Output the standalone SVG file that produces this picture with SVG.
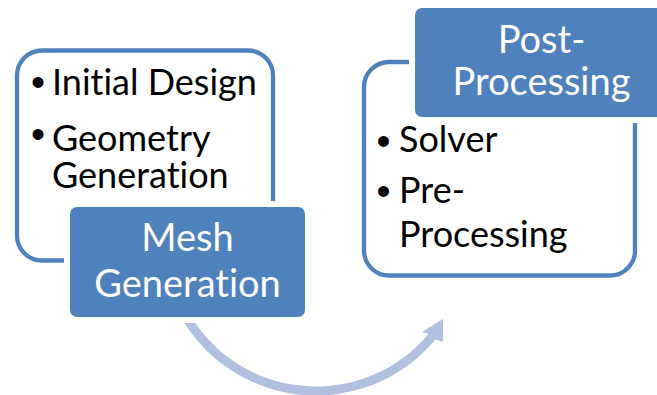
<svg xmlns="http://www.w3.org/2000/svg" width="657" height="395" viewBox="0 0 657 395">
  <style>
    .outline { fill: #FFFFFF; stroke: #4F81BD; stroke-width: 4.3; }
    .gap { fill: #FFFFFF; }
    .box { fill: #4F81BD; }
    .t { font-family: Lato, "Open Sans", sans-serif; font-size: 36px; fill: #000000; font-variant-ligatures: none; font-feature-settings: "liga" 0; }
    .tw { font-family: Lato, "Open Sans", sans-serif; font-size: 38px; fill: #FFFFFF; text-anchor: middle; font-variant-ligatures: none; font-feature-settings: "liga" 0; }
    .b { font-family: "Liberation Sans", Arial, sans-serif; font-size: 40px; fill: #000000; text-anchor: middle; }
    .arc { fill: #B0C0DE; }
  </style>
  <g id="connectors">
    <path class="arc" d="M 184.5 323 A 155.5 155.5 0 0 0 435.5 339.5 L 443 342 L 443 319 L 422 332 L 428.6 333.8 A 146.5 146.5 0 0 1 195.3 323 Z"/>
  </g>
  <g id="node-design">
    <rect class="outline" x="17" y="50.5" width="256" height="210" rx="25"/>
    <text class="b" x="38" y="96">•</text>
    <text class="t" x="52" y="95">Initial Design</text>
    <text class="b" x="38" y="147.5">•</text>
    <text class="t" x="52" y="151">Geometry</text>
    <text class="t" x="52" y="188">Generation</text>
  </g>
  <g id="node-mesh">
    <rect class="gap" x="64" y="201" width="247" height="122" rx="11"/>
    <rect class="box" x="70" y="207" width="235" height="110" rx="7"/>
    <text class="tw" x="187.5" y="251">Mesh</text>
    <text class="tw" x="187.5" y="297">Generation</text>
  </g>
  <g id="node-solver">
    <rect class="outline" x="364" y="62" width="271" height="213.5" rx="25"/>
    <text class="b" x="383.5" y="155">•</text>
    <text class="t" x="399" y="152">Solver</text>
    <text class="b" x="383.5" y="205">•</text>
    <text class="t" x="399" y="203">Pre-</text>
    <text class="t" x="399" y="247">Processing</text>
  </g>
  <g id="node-post">
    <rect class="gap" x="409" y="2" width="260" height="121" rx="11"/>
    <rect class="box" x="415" y="8" width="252" height="109" rx="7"/>
    <text class="tw" x="541.5" y="53">Post-</text>
    <text class="tw" x="541.5" y="95">Processing</text>
  </g>
</svg>
